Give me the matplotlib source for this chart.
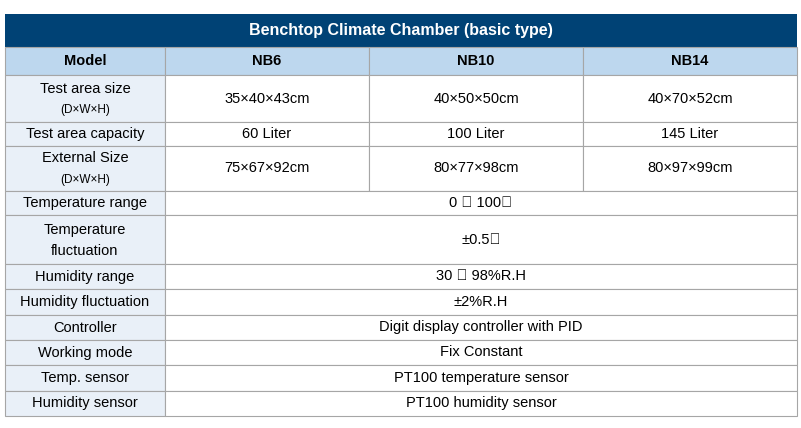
import matplotlib
matplotlib.use("Agg")
import matplotlib.pyplot as plt
from matplotlib.patches import Rectangle

title = "Benchtop Climate Chamber (basic type)"
models = ["NB6", "NB10", "NB14"]
row_labels = ["Test area size\n(D×W×H)", "Test area capacity", "External Size\n(D×W×H)",
              "Temperature range", "Temperature\nfluctuation", "Humidity range",
              "Humidity fluctuation", "Controller", "Working mode", "Temp. sensor", "Humidity sensor"]
row_values = [
    ["35×40×43cm", "40×50×50cm", "40×70×52cm"],
    ["60 Liter", "100 Liter", "145 Liter"],
    ["75×67×92cm", "80×77×98cm", "80×97×99cm"],
    ["0 ～ 100℃"],
    ["±0.5℃"],
    ["30 ～ 98%R.H"],
    ["±2%R.H"],
    ["Digit display controller with PID"],
    ["Fix Constant"],
    ["PT100 temperature sensor"],
    ["PT100 humidity sensor"],
]

W, H = 801, 428
fig = plt.figure(figsize=(W/100, H/100), dpi=100)
ax = fig.add_axes([0, 0, 1, 1])
ax.set_xlim(0, W); ax.set_ylim(H, 0); ax.axis("off")

cols = [5, 165, 369, 583, 797]
row_edges = [75, 122, 146, 191, 215, 264, 289, 315, 340, 365, 391, 416]
grid = "#a6a6a6"
font = "Liberation Sans"

ax.add_patch(Rectangle((cols[0], 14), cols[-1]-cols[0], 33, fc="#004275", ec="none"))
ax.text((cols[0]+cols[-1])/2, 30.5, title, color="white", fontsize=11.5, fontweight="bold",
        ha="center", va="center", family=font)

def cell(x0, x1, y0, y1, fc, text, bold=False, small_second=False):
    ax.add_patch(Rectangle((x0, y0), x1-x0, y1-y0, fc=fc, ec=grid, lw=0.8))
    cx, cy = (x0+x1)/2, (y0+y1)/2
    if "\n" in text:
        a, b = text.split("\n")
        fs2 = 8.5 if small_second else 10.5
        ax.text(cx, cy-10, a, fontsize=10.5, ha="center", va="center", family=font)
        ax.text(cx, cy+11, b, fontsize=fs2, ha="center", va="center", family=font)
    else:
        ax.text(cx, cy, text, fontsize=10.5, ha="center", va="center", family=font,
                fontweight="bold" if bold else "normal")

cell(cols[0], cols[1], 47, 75, "#bdd7ee", "Model", bold=True)
for i, m in enumerate(models):
    cell(cols[i+1], cols[i+2], 47, 75, "#bdd7ee", m, bold=True)

for r, (lab, vals) in enumerate(zip(row_labels, row_values)):
    y0, y1 = row_edges[r], row_edges[r+1]
    cell(cols[0], cols[1], y0, y1, "#e9f0f8", lab, small_second="D×W×H" in lab)
    if len(vals) == 3:
        for i, v in enumerate(vals):
            cell(cols[i+1], cols[i+2], y0, y1, "white", v)
    else:
        cell(cols[1], cols[-1], y0, y1, "white", vals[0])

fig.savefig("out.png", dpi=100, facecolor="white")
